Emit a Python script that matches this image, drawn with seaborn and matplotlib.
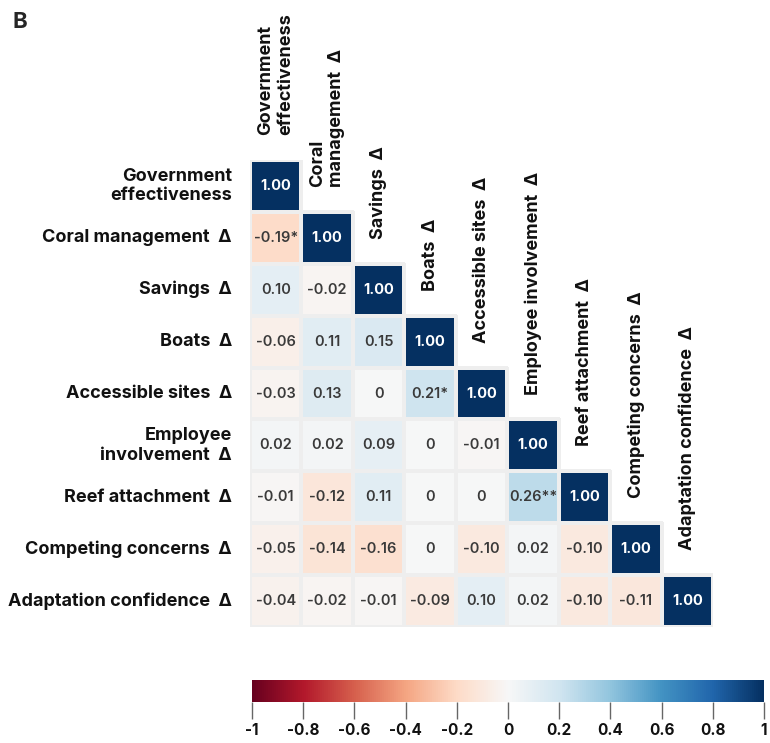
import numpy as np
import pandas as pd
import matplotlib
matplotlib.use("Agg")
import matplotlib.pyplot as plt
import seaborn as sns
from matplotlib.colors import to_rgba
from matplotlib.ticker import FuncFormatter

sns.set_theme(style="white")
plt.rcParams['font.family'] = ['Inter', 'DejaVu Sans']

# ---- data ----
row_labels = ["Government\neffectiveness", "Coral management  Δ", "Savings  Δ", "Boats  Δ",
              "Accessible sites  Δ", "Employee\ninvolvement  Δ", "Reef attachment  Δ",
              "Competing concerns  Δ", "Adaptation confidence  Δ"]
col_labels = ["Government\neffectiveness", "Coral\nmanagement  Δ", "Savings  Δ", "Boats  Δ",
              "Accessible sites  Δ", "Employee involvement  Δ", "Reef attachment  Δ",
              "Competing concerns  Δ", "Adaptation confidence  Δ"]

r0 = [1.00]
r1 = [-0.19, 1.00]
r2 = [0.10, -0.02, 1.00]
r3 = [-0.06, 0.11, 0.15, 1.00]
r4 = [-0.03, 0.13, 0.00, 0.21, 1.00]
r5 = [0.02, 0.02, 0.09, 0.00, -0.01, 1.00]
r6 = [-0.01, -0.12, 0.11, 0.00, 0.00, 0.26, 1.00]
r7 = [-0.05, -0.14, -0.16, 0.00, -0.10, 0.02, -0.10, 1.00]
r8 = [-0.04, -0.02, -0.01, -0.09, 0.10, 0.02, -0.10, -0.11, 1.00]
rows = [r0, r1, r2, r3, r4, r5, r6, r7, r8]

# significance stars keyed by (row, col)
stars = {(1, 0): "*", (4, 3): "*", (6, 5): "**"}

cbar_ticks = [-1, -0.8, -0.6, -0.4, -0.2, 0, 0.2, 0.4, 0.6, 0.8, 1]

# ---- build matrix ----
n = len(rows)
mat = np.full((n, n), np.nan)
annot = np.full((n, n), "", dtype=object)
for i, r in enumerate(rows):
    for j, v in enumerate(r):
        mat[i, j] = v
        s = "0" if (v == 0 and i != j) else f"{v:.2f}"
        annot[i, j] = s + stars.get((i, j), "")
mask = np.isnan(mat)
df = pd.DataFrame(mat, index=row_labels, columns=col_labels)

W, H = 770, 743
fig = plt.figure(figsize=(W / 100, H / 100), dpi=100)
ax = fig.add_axes([250 / W, 1 - 627 / H, 463 / W, 467 / H])
cax = fig.add_axes([252 / W, 1 - 702 / H, 512 / W, 22 / H])

sns.heatmap(df, mask=mask, cmap="RdBu", vmin=-1, vmax=1, annot=annot, fmt="",
            linewidths=1.5, linecolor="#eeeeee", square=False, ax=ax,
            cbar_ax=cax, cbar_kws={"orientation": "horizontal", "ticks": cbar_ticks},
            annot_kws={"fontsize": 10.5, "fontweight": "semibold"})

# hide edges of masked (upper-triangle) cells
mesh = ax.collections[0]
ec = np.array([(0, 0, 0, 0) if m else to_rgba("#eeeeee") for m in mask.ravel()])
mesh.set_edgecolors(ec)

# annotation colors
for t in ax.texts:
    if t.get_text() == "1.00":
        t.set_color("white")
        t.set_fontweight("bold")
    else:
        t.set_color("#3a3a3a")

# row labels
ax.set_yticks(np.arange(n) + 0.5)
ax.set_yticklabels(row_labels, rotation=0, fontsize=13, fontweight="bold",
                   color="#111111", ma="right")
ax.tick_params(axis="y", length=0, pad=13)
ax.set_xticks([])
ax.set_xlabel("")
ax.set_ylabel("")

# column labels above diagonal cells
for j, lab in enumerate(col_labels):
    ax.text(j + 0.5, j - 0.48, lab, rotation=90, ha="center", va="bottom",
            fontsize=13, fontweight="bold", color="#111111", ma="left")

# colorbar styling
cb = mesh.colorbar
cb.outline.set_visible(False)
cax.xaxis.set_major_formatter(FuncFormatter(lambda v, p: f"{v:g}"))
cax.tick_params(axis="x", length=12, width=1, color="#666666", pad=3,
                labelsize=11)
for lab in cax.get_xticklabels():
    lab.set_fontweight("bold")
    lab.set_color("#111111")

fig.text(12 / W, 1 - 22 / H, "B", fontsize=16, fontweight="bold", va="center", ha="left")

fig.savefig("out.png", dpi=100)
